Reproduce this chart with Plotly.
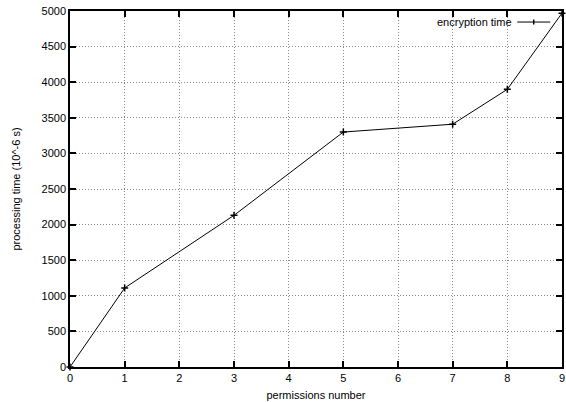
import plotly.graph_objects as go

# measured encryption times
permissions = [0, 1, 3, 5, 7, 8, 9]
encryption_time = [0, 1110, 2130, 3300, 3410, 3900, 4970]

x_ticks = list(range(0, 10))
y_ticks = list(range(0, 5001, 500))

FONT = "Liberation Sans, Arial, Helvetica, sans-serif"

fig = go.Figure()
fig.add_trace(go.Scatter(
    x=permissions, y=encryption_time, mode="lines+markers",
    name="encryption time",
    line=dict(color="black", width=1),
    marker=dict(symbol="cross-thin-open", size=5, color="black",
                line=dict(color="black", width=1.5)),
    showlegend=False, cliponaxis=False,
))

axis_common = dict(
    showline=True, linecolor="black", linewidth=1.5, mirror="allticks",
    ticks="inside", ticklen=6, tickwidth=1.5, tickcolor="black",
    showgrid=True, gridcolor="#8c8c8c", griddash="1px,2px", gridwidth=1,
    zeroline=False, automargin=False,
    tickfont=dict(family=FONT, size=11, color="black"),
)

fig.update_xaxes(range=[0, 9], tickvals=x_ticks,
                 title=dict(text="permissions number", standoff=8,
                            font=dict(family=FONT, size=11, color="black")),
                 **axis_common)
fig.update_yaxes(range=[0, 5000], tickvals=y_ticks,
                 title=dict(text="processing time (10^-6 s)", standoff=19,
                            font=dict(family=FONT, size=11, color="black")),
                 **axis_common)

# legend key: text followed by a line sample with a cross marker
fig.add_annotation(xref="paper", yref="paper", x=0.902, y=0.969,
                   xanchor="right", yanchor="middle", showarrow=False,
                   text="encryption time",
                   font=dict(family=FONT, size=11, color="black"))
fig.add_shape(type="line", xref="paper", yref="paper",
              x0=0.909, x1=0.976, y0=0.969, y1=0.969,
              line=dict(color="black", width=1))
fig.add_shape(type="line", xref="paper", yref="paper",
              x0=0.9425, x1=0.9425, y0=0.962, y1=0.976,
              line=dict(color="black", width=1.5))

fig.update_layout(
    width=566, height=402,
    margin=dict(l=70, r=4, t=11, b=35),
    paper_bgcolor="white", plot_bgcolor="white",
    font=dict(family=FONT, size=11, color="black"),
)

fig.write_html("out.html")
